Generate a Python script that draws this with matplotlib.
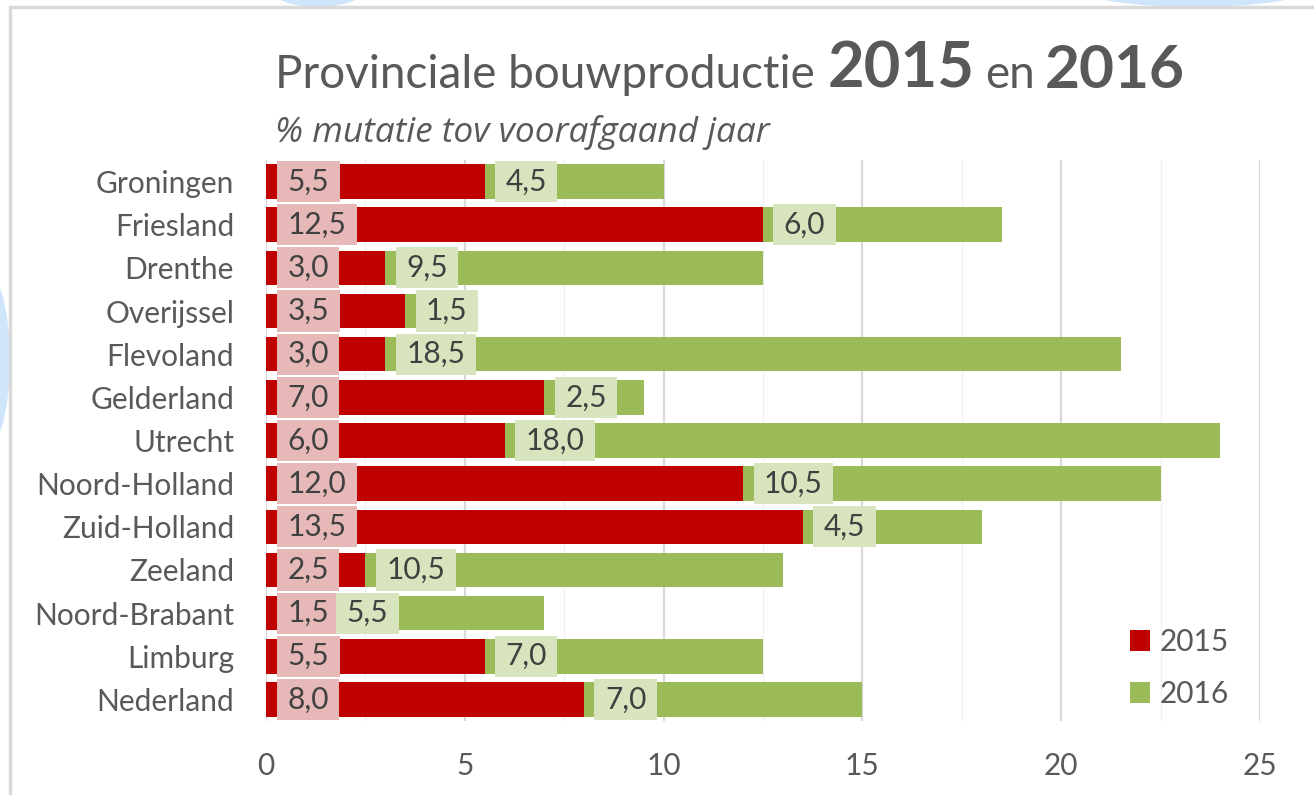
import numpy as np
import matplotlib
matplotlib.use('Agg')
import matplotlib.pyplot as plt
from matplotlib.patches import Rectangle, Ellipse

#%% data
provinces = ['Groningen', 'Friesland', 'Drenthe', 'Overijssel', 'Flevoland', 'Gelderland',
             'Utrecht', 'Noord-Holland', 'Zuid-Holland', 'Zeeland', 'Noord-Brabant',
             'Limburg', 'Nederland']
val_2015 = [5.5, 12.5, 3.0, 3.5, 3.0, 7.0, 6.0, 12.0, 13.5, 2.5, 1.5, 5.5, 8.0]
val_2016 = [4.5, 6.0, 9.5, 1.5, 18.5, 2.5, 18.0, 10.5, 4.5, 10.5, 5.5, 7.0, 7.0]
xticks = [0, 5, 10, 15, 20, 25]

c15 = '#C00000'
c16 = '#9BBB59'
grey = '#595959'
fs = 21.5

plt.rcParams['font.family'] = ['Lato', 'DejaVu Sans']

W, H = 1314, 795
fig = plt.figure(figsize=(W / 100, H / 100), dpi=100)
fig.patch.set_facecolor('white')

#%% light blue background shapes and frame
for (x0, y0, w, h) in [(-40, 270, 50, 180), (270, -30, 95, 37), (1080, -30, 230, 37)]:
    fig.patches.append(Ellipse(((x0 + w / 2) / W, 1 - (y0 + h / 2) / H), w / W, h / H,
                               transform=fig.transFigure, fc='#CFE5FB', ec='none', zorder=-3))
fig.patches.append(Rectangle((10 / W, -0.05), 1.2, 1.05 - 7 / H, transform=fig.transFigure,
                             fc='white', ec='#D9D9D9', lw=2.5, zorder=-2))

#%% axes
ax = fig.add_axes([266 / W, 1 - 721 / H, (1260 - 266) / W, (721 - 160) / H])
ax.set_facecolor('white')
y = np.arange(len(provinces))
ax.barh(y, val_2015, height=0.8, color=c15, label='2015', zorder=2)
ax.barh(y, val_2016, left=val_2015, height=0.8, color=c16, label='2016', zorder=2)

ax.set_xlim(0, 25)
ax.set_ylim(len(provinces) - 0.5, -0.5)
ax.set_xticks(xticks)
ax.set_xticklabels([str(t) for t in xticks])
ax.set_xticks(np.arange(2.5, 25, 5), minor=True)
ax.set_yticks(y)
ax.set_yticklabels(provinces)
ax.tick_params(axis='both', which='both', length=0, labelsize=fs, colors=grey)
ax.tick_params(axis='x', pad=22)
ax.tick_params(axis='y', pad=23)
ax.grid(True, axis='x', which='major', color='#D9D9D9', lw=1.6, zorder=0)
ax.grid(True, axis='x', which='minor', color='#F0F0F0', lw=1.0, zorder=0)
ax.set_axisbelow(True)
for s in ax.spines.values():
    s.set_visible(False)

#%% data labels (wider padding left/right than top/bottom)
box15 = dict(boxstyle='square,pad=0.35', fc='#E6B9B8', ec='none', mutation_aspect=0.63)
box16 = dict(boxstyle='square,pad=0.35', fc='#D7E4BD', ec='none', mutation_aspect=0.63)
for i in range(len(provinces)):
    ax.annotate(f'{val_2015[i]:.1f}'.replace('.', ','), xy=(0, i), xytext=(15.5, 0),
                textcoords='offset points', ha='left', va='center', fontsize=fs,
                color='#404040', zorder=4, bbox=box15)
    ax.annotate(f'{val_2016[i]:.1f}'.replace('.', ','), xy=(val_2015[i], i),
                xytext=(15, 0), textcoords='offset points', ha='left', va='center',
                fontsize=fs, color='#404040', zorder=4, bbox=box16)

#%% legend
leg = ax.legend(loc='upper left', bbox_to_anchor=(1130 / W, 1 - 628 / H),
                bbox_transform=fig.transFigure, frameon=False, fontsize=fs,
                handlelength=0.67, handleheight=0.67, handletextpad=0.33,
                labelspacing=0.8, borderpad=0, borderaxespad=0)
for t in leg.get_texts():
    t.set_color(grey)

#%% title pieces placed one after another, each fitted to its width in the reference
r = fig.canvas.get_renderer()
parts = [('Provinciale bouwproductie', 'normal', 275, 815),
         ('2015', 'bold', 828, 975),
         ('en', 'normal', 985, 1030),
         ('2016', 'bold', 1045, 1185)]
for txt, weight, x0, x1 in parts:
    t = fig.text(x0 / W, 1 - 88 / H, txt, fontsize=33 if weight == 'normal' else 46,
                 fontweight=weight, color=grey, ha='left', va='baseline')
    if txt != 'en':
        bb = t.get_window_extent(renderer=r)
        t.set_fontsize(t.get_fontsize() * (x1 - x0) / bb.width)
sub = fig.text(275 / W, 1 - 142 / H, '% mutatie tov voorafgaand jaar', fontsize=21.5,
               style='italic', color=grey, ha='left', va='baseline',
               family=['Open Sans', 'DejaVu Sans'])
bb = sub.get_window_extent(renderer=r)
sub.set_fontsize(21.5 * 495 / bb.width)

fig.savefig('out.png', dpi=100)
